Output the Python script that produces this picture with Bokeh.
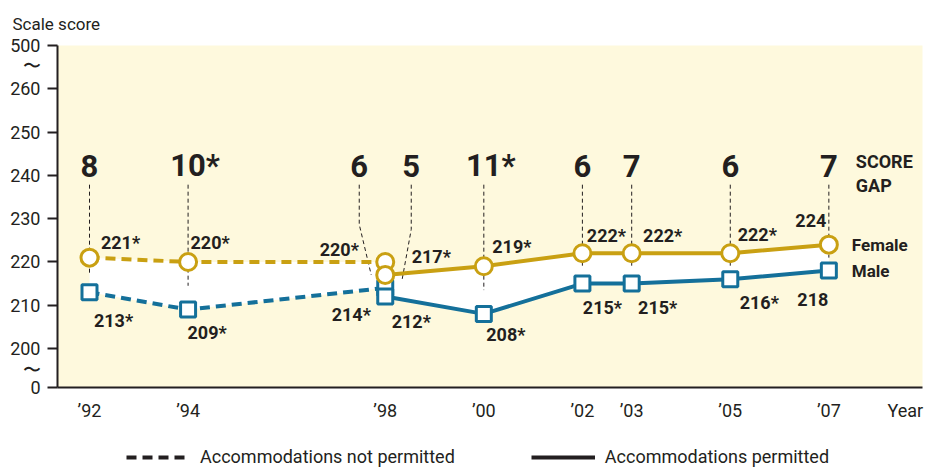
from bokeh.plotting import figure
from bokeh.layouts import column
from bokeh.models import (Range1d, FixedTicker, Legend, LegendItem, Title,
                          ColumnDataSource)
from bokeh.core.properties import value
from bokeh.embed import file_html
from bokeh.resources import INLINE

# ---------------- data ----------------
years_np = [1992, 1994, 1998]
female_np = [221, 220, 220]
male_np = [213, 209, 214]
female_np_lbl = ["221*", "220*", "220*"]
male_np_lbl = ["213*", "209*", "214*"]
gap_np = ["8", "10*", "6"]

years_p = [1998, 2000, 2002, 2003, 2005, 2007]
female_p = [217, 219, 222, 222, 222, 224]
male_p = [212, 208, 215, 215, 216, 218]
female_p_lbl = ["217*", "219*", "222*", "222*", "222*", "224"]
male_p_lbl = ["212*", "208*", "215*", "215*", "216*", "218"]
gap_p = ["5", "11*", "6", "7", "6", "7"]

x_tick_years = [1992, 1994, 1998, 2000, 2002, 2003, 2005, 2007]
x_tick_labels = ["\u201992", "\u201994", "\u201998", "\u201900", "\u201902", "\u201903", "\u201905", "\u201907"]
y_tick_values = [200, 210, 220, 230, 240, 250, 260]
y_tick_labels = ["200", "210", "220", "230", "240", "250", "260"]
y_break_low, y_break_low_label = 191, "0"
y_break_high, y_break_high_label = 270, "500"
BREAK_MARK = "\u301C"

legend_labels = ["Accommodations not permitted", "Accommodations permitted"]

# ---------------- style / layout ----------------
FONT = "Roboto"
INK = "#231F20"
GOLD = "#C9A012"
BLUE = "#14709A"
BG = "#FEF9DD"

W = 927
LEG_H = 30
H = 467 - LEG_H
FL, FT, FR = 57, 43, 5
FW, FH = W - FL - FR, 344
FB = H - FT - FH
PX_PER_YEAR = 49.29
X0 = 1992 - 32 / PX_PER_YEAR
X1 = X0 + FW / PX_PER_YEAR
PX_PER_UNIT = FH / (y_break_high - y_break_low)

def dx(px):
    return px / PX_PER_YEAR

def dy(px):
    return px / PX_PER_UNIT

def iy(px):
    # image pixel row -> data y
    return y_break_low + (FT + FH - px) / PX_PER_UNIT

p = figure(width=W, height=H, output_backend="svg", toolbar_location=None,
           x_range=Range1d(X0, X1), y_range=Range1d(y_break_low, y_break_high),
           min_border_left=FL, min_border_right=FR, min_border_top=FT,
           min_border_bottom=FB, background_fill_color=BG,
           border_fill_color="white", outline_line_color=None)
p.grid.visible = False

# title
p.title = Title(text="Scale score", align="left", offset=-45, standoff=23,
                text_font=FONT, text_font_size="17px", text_font_style="normal",
                text_color=INK)

# y axis (tick marks drawn as minor ticks so break marks get only a label)
yax = p.yaxis[0]
brk_hi, brk_lo = iy(63), iy(369)
yticks = [y_break_low] + y_tick_values + [y_break_high]
yax.ticker = FixedTicker(ticks=[y_break_low, brk_lo] + y_tick_values + [brk_hi, y_break_high],
                         minor_ticks=yticks)
ov = {v: l for v, l in zip(y_tick_values, y_tick_labels)}
ov[y_break_low] = y_break_low_label
ov[y_break_high] = y_break_high_label
ov[brk_lo] = BREAK_MARK
ov[brk_hi] = BREAK_MARK
yax.major_label_overrides = ov
yax.axis_line_color = INK
yax.axis_line_width = 2
yax.major_tick_line_color = None
yax.major_tick_out = 10
yax.major_tick_in = 0
yax.minor_tick_line_color = INK
yax.minor_tick_line_width = 2
yax.minor_tick_out = 10
yax.minor_tick_in = 0
yax.major_label_standoff = 7
yax.major_label_text_font = FONT
yax.major_label_text_font_size = "18px"
yax.major_label_text_color = INK

YEAR_POS = 2008.55
xax = p.xaxis[0]
xax.ticker = FixedTicker(ticks=x_tick_years + [YEAR_POS])
xov = {v: l for v, l in zip(x_tick_years, x_tick_labels)}
xov[YEAR_POS] = "Year"
xax.major_label_overrides = xov
xax.axis_line_color = INK
xax.axis_line_width = 2
xax.major_tick_line_color = None
xax.major_tick_out = 0
xax.major_tick_in = 0
xax.minor_tick_line_color = None
xax.major_label_standoff = 12
xax.major_label_text_font = FONT
xax.major_label_text_font_size = "18px"
xax.major_label_text_color = INK

# white band between series
p.varea(x=years_np, y1=male_np, y2=female_np, fill_color="white")
p.varea(x=years_p, y1=male_p, y2=female_p, fill_color="white")

# gap leaders
GAP_Y = iy(164)
LEAD_TOP = iy(183)
lead_xs, lead_ys = [], []
for i, yr in enumerate(years_np):
    mid = (female_np[i] + male_np[i]) / 2
    if yr == 1998:
        lead_xs.append([yr - dx(26), yr - dx(26), yr - dx(14)])
        lead_ys.append([LEAD_TOP, iy(223), mid])
    else:
        lead_xs.append([yr, yr])
        lead_ys.append([LEAD_TOP, mid])
for i, yr in enumerate(years_p):
    mid = (female_p[i] + male_p[i]) / 2
    if yr == 1998:
        lead_xs.append([yr + dx(26), yr + dx(26), yr + dx(17)])
        lead_ys.append([LEAD_TOP, iy(228), female_p[i] - dy(4)])
    else:
        lead_xs.append([yr, yr])
        lead_ys.append([LEAD_TOP, mid])
p.multi_line(xs=lead_xs, ys=lead_ys, line_color=INK, line_width=1, line_dash="4 3")

# series lines
p.line(years_np, female_np, line_color=GOLD, line_width=4, line_dash="10 6")
p.line(years_np, male_np, line_color=BLUE, line_width=4, line_dash="10 6")
p.line(years_p, female_p, line_color=GOLD, line_width=4)
p.line(years_p, male_p, line_color=BLUE, line_width=4)

# markers
p.scatter(years_np, male_np, marker="square", size=15, fill_color="white", line_color=BLUE, line_width=3)
p.scatter(years_p, male_p, marker="square", size=15, fill_color="white", line_color=BLUE, line_width=3)
p.scatter(years_np, female_np, marker="circle", size=17, fill_color="white", line_color=GOLD, line_width=3)
p.scatter(years_p, female_p, marker="circle", size=17, fill_color="white", line_color=GOLD, line_width=3)

# score labels (offset in px: right, up)
f_np_off = [(31, 15), (22, 19), (-46, 12)]
f_p_off = [(46, 18), (28, 20), (24, 18), (31, 18), (27, 19), (-18, 24)]
m_np_off = [(24, -28), (19, -23), (-34, -27)]
m_p_off = [(26, -25), (22, -21), (20, -24), (26, -24), (29, -23), (-16, -29)]

def add_labels(xv, yv, txt, off):
    src = ColumnDataSource(dict(x=xv, y=yv, t=txt,
                                ox=[o[0] for o in off], oy=[-o[1] for o in off]))
    p.text(x="x", y="y", text="t", x_offset="ox", y_offset="oy", source=src,
           text_font=value(FONT), text_font_size="18px", text_font_style="bold",
           text_color=INK, text_align="center", text_baseline="middle")

add_labels(years_np, female_np, female_np_lbl, f_np_off)
add_labels(years_p, female_p, female_p_lbl, f_p_off)
add_labels(years_np, male_np, male_np_lbl, m_np_off)
add_labels(years_p, male_p, male_p_lbl, m_p_off)

# gap labels
gx, gt, gox = [], [], []
for yr, g in zip(years_np, gap_np):
    gx.append(yr); gt.append(g)
    gox.append((-26 if yr == 1998 else 0) + (7 if g.endswith("*") else 0))
for yr, g in zip(years_p, gap_p):
    gx.append(yr); gt.append(g)
    gox.append((26 if yr == 1998 else 0) + (7 if g.endswith("*") else 0))
gsrc = ColumnDataSource(dict(x=gx, y=[GAP_Y] * len(gx), t=gt, ox=gox))
p.text(x="x", y="y", text="t", x_offset="ox", source=gsrc,
       text_font=value(FONT), text_font_size="31px", text_font_style="bold",
       text_color=INK, text_align="center", text_baseline="middle")

# SCORE GAP, Female, Male
last = years_p[-1]
p.text(x=[last, last], y=[GAP_Y, GAP_Y], text=["SCORE", "GAP"], x_offset=[27, 27], y_offset=[-4, 20],
       text_font=value(FONT), text_font_size="18px", text_font_style="bold",
       text_color=INK, text_align="left", text_baseline="middle")
p.text(x=[last, last], y=[female_p[-1], male_p[-1]], text=["Female", "Male"], x_offset=[23, 23],
       text_font=value(FONT), text_font_size="17px", text_font_style="bold",
       text_color=INK, text_align="left", text_baseline="middle")

# legend strip (separate small figure below the chart; frame aligns with the chart's)
q = figure(width=W, height=LEG_H, output_backend="svg", toolbar_location=None,
           x_axis_type=None, y_axis_type=None, x_range=Range1d(0, 1), y_range=Range1d(0, 1),
           min_border=0, min_border_left=0, min_border_right=0, min_border_top=0,
           min_border_bottom=0, outline_line_color=None,
           background_fill_color="white", border_fill_color="white")
q.grid.visible = False
# legend-only renderers: their single point lies outside the strip's range
r_dash = q.line([-1, -1], [-1, -1], line_color=INK, line_width=4, line_dash="10 6")
r_solid = q.line([-1, -1], [-1, -1], line_color=INK, line_width=4)
legend = Legend(items=[LegendItem(label=legend_labels[0], renderers=[r_dash]),
                       LegendItem(label=legend_labels[1], renderers=[r_solid])],
                orientation="horizontal", location=(69, 0), padding=0, margin=0,
                spacing=76, glyph_width=64, glyph_height=20, label_standoff=10,
                label_text_font=FONT, label_text_font_size="18px", label_text_color=INK,
                border_line_alpha=0, background_fill_alpha=0)
q.add_layout(legend)

layout = column(p, q, spacing=0)
open("out.html", "w").write(file_html(layout, INLINE))
